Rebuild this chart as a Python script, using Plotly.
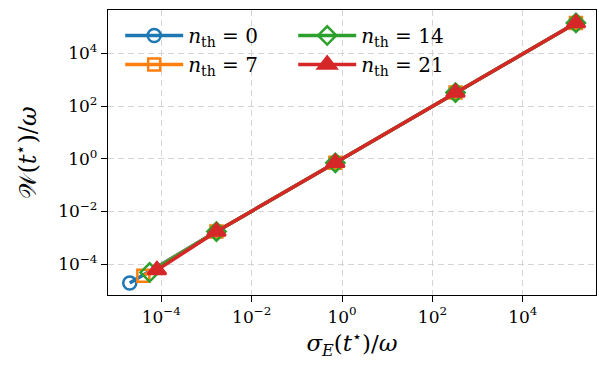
import plotly.graph_objects as go

# Energy spread sigma_E(t*)/omega and work W(t*)/omega for each thermal occupation
n_th = [0, 7, 14, 21]
sigma_n0 = [2.0e-5, 1.66e-3, 0.71, 3.24e2, 1.5e5]
work_n0 = [1.95e-5, 1.74e-3, 0.705, 3.24e2, 1.41e5]
sigma_n7 = [4.0e-5, 1.66e-3, 0.71, 3.24e2, 1.5e5]
work_n7 = [3.7e-5, 1.74e-3, 0.705, 3.24e2, 1.41e5]
sigma_n14 = [5.5e-5, 1.66e-3, 0.71, 3.24e2, 1.5e5]
work_n14 = [4.9e-5, 1.74e-3, 0.705, 3.24e2, 1.41e5]
sigma_n21 = [8.0e-5, 1.66e-3, 0.71, 3.24e2, 1.5e5]
work_n21 = [6.0e-5, 1.74e-3, 0.705, 3.24e2, 1.41e5]

tick_vals = [1e-4, 1e-2, 1e0, 1e2, 1e4]
tick_text = ["10<sup>−4</sup>", "10<sup>−2</sup>", "10<sup>0</sup>", "10<sup>2</sup>", "10<sup>4</sup>"]

colors = ["#1f77b4", "#ff7f0e", "#2ca02c", "#d62728"]
symbols = ["circle-open", "square-open", "diamond-open", "triangle-up"]
sizes = [13, 12, 14, 16]
ranks = [1, 3, 2, 4]  # two-column legend: 0 and 14 on top row
xs = [sigma_n0, sigma_n7, sigma_n14, sigma_n21]
ys = [work_n0, work_n7, work_n14, work_n21]

FONT = "DejaVu Serif"

fig = go.Figure()
for n, x, y, c, s, sz, r in zip(n_th, xs, ys, colors, symbols, sizes, ranks):
    fig.add_trace(go.Scatter(
        x=x, y=y, mode="lines+markers",
        name=f"<i>n</i><sub>th</sub> = {n}",
        line=dict(color=c, width=3.5),
        marker=dict(symbol=s, size=sz, color=c, line=dict(color=c, width=2.5)),
        legendrank=r,
    ))

axis_common = dict(
    type="log",
    tickvals=tick_vals, ticktext=tick_text,
    showline=True, linecolor="black", linewidth=1.3, mirror=True,
    ticks="outside", ticklen=6, tickwidth=1.2, tickcolor="black",
    showgrid=True, gridcolor="#d4d4d4", gridwidth=1, griddash="6px,4px",
    zeroline=False,
    tickfont=dict(family=FONT, size=17, color="black"),
)

fig.update_xaxes(
    **axis_common,
    range=[-5.18, 5.62],
    title=dict(text="<i>σ<sub>E</sub></i>(<i>t</i><sup>⋆</sup>)/<i>ω</i>",
               font=dict(family=FONT, size=23, color="black"), standoff=8),
)
fig.update_yaxes(
    **axis_common,
    range=[-5.165, 5.64],
    title=dict(text="𝒲(<i>t</i><sup>⋆</sup>)/<i>ω</i>",
               font=dict(family=FONT, size=24, color="black"), standoff=14),
)

fig.update_layout(
    width=599, height=366,
    margin=dict(l=108, r=3, t=10, b=71),
    plot_bgcolor="white", paper_bgcolor="white",
    font=dict(family=FONT, color="black"),
    legend=dict(
        orientation="h", x=0.025, y=0.979, xanchor="left", yanchor="top",
        itemwidth=58, entrywidth=100, entrywidthmode="pixels",
        bgcolor="rgba(0,0,0,0)",
        font=dict(family=FONT, size=20, color="black"),
    ),
)

fig.write_html("out.html")
